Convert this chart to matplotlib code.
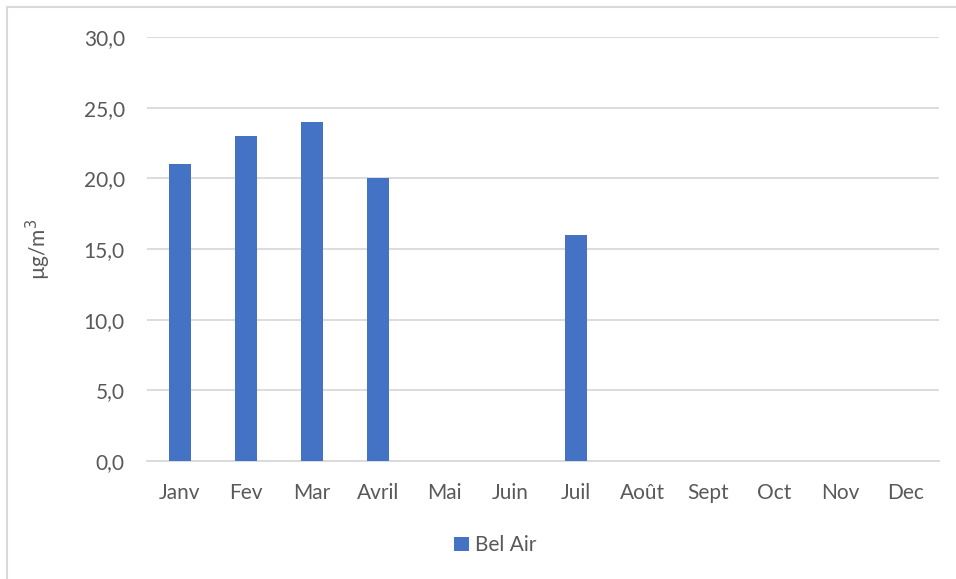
import numpy as np
import matplotlib.pyplot as plt
from matplotlib.patches import Rectangle

# monthly concentrations, missing months left empty
months = ['Janv', 'Fev', 'Mar', 'Avril', 'Mai', 'Juin', 'Juil', 'Août', 'Sept', 'Oct', 'Nov', 'Dec']
bel_air = [21, 23, 24, 20, np.nan, np.nan, 16, np.nan, np.nan, np.nan, np.nan, np.nan]
yticks = [0, 5, 10, 15, 20, 25, 30]

plt.rcParams['font.family'] = ['Lato', 'DejaVu Sans']
txt = '#595959'
grid = '#d9d9d9'
fs = 15

fig = plt.figure(figsize=(9.56, 5.79), dpi=100)
ax = fig.add_axes([0.1538, 0.2038, 0.8284, 0.7323])

x = np.arange(len(months))
ax.bar(x, bel_air, width=0.33, color='#4472C4', label='Bel Air', zorder=3)

ax.set_xlim(-0.5, len(months) - 0.5)
ax.set_ylim(0, 30)
ax.set_yticks(yticks)
ax.set_yticklabels([('%.1f' % v).replace('.', ',') for v in yticks])
ax.set_xticks(x)
ax.set_xticklabels(months)
ax.tick_params(axis='both', length=0, labelsize=fs, colors=txt)
ax.tick_params(axis='x', pad=16)
ax.tick_params(axis='y', pad=16)
ax.grid(axis='y', color=grid, linewidth=1.3, zorder=0)
for s in ['top', 'right', 'left']:
    ax.spines[s].set_visible(False)
ax.spines['bottom'].set_color(grid)
ax.spines['bottom'].set_linewidth(1.3)

ax.set_ylabel('µg/m$^3$', fontsize=fs, color=txt, labelpad=22)

fig.legend(loc='center', bbox_to_anchor=(0.518, 0.058), frameon=False,
           fontsize=fs, handlelength=0.7, handleheight=0.7, handletextpad=0.3,
           labelcolor=txt)

# chart area outline
fig.patches.append(Rectangle((7 / 956, -0.01), 1.0, 1.0 - 7 / 579 + 0.01,
                             transform=fig.transFigure, fill=False,
                             edgecolor=grid, linewidth=1.5))

fig.savefig('out.png', dpi=100)
